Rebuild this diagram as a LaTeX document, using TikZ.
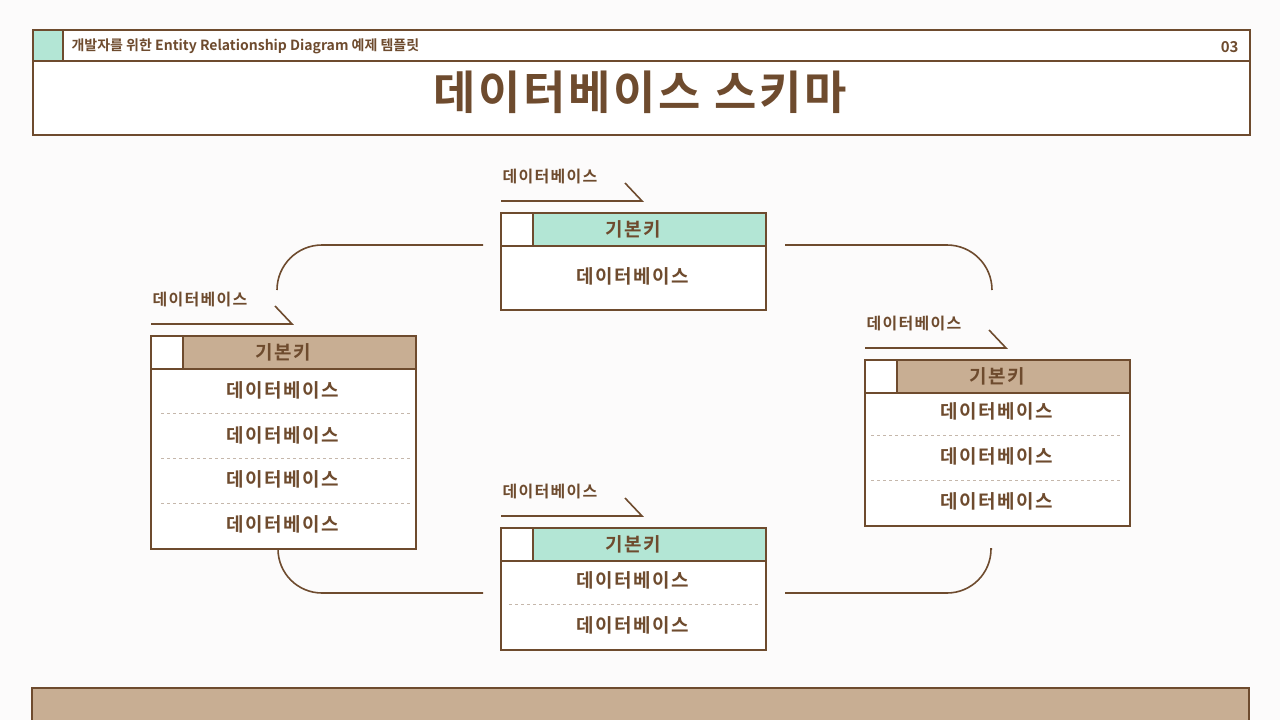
\documentclass[tikz,border=0pt]{standalone}
\usepackage{fontspec}
\setmainfont{Noto Sans CJK KR}[BoldFont={* Bold}]
\definecolor{br}{HTML}{6E4B2E}
\definecolor{mint}{HTML}{B3E6D5}
\definecolor{tan}{HTML}{C8AE93}
\begin{document}
\begin{tikzpicture}[x=1pt,y=-1pt,
  ln/.style={draw=br,line width=1.6pt},
  rowtxt/.style={text=br,font=\bfseries\fontsize{19}{19}\selectfont\addfontfeature{LetterSpace=8}},
  dsh/.style={draw=br!40,dashed,line width=0.8pt},
  conn/.style={draw=br,line width=1.6pt}]
\fill[white!98!br] (0,0) rectangle (1280,720);
\useasboundingbox (0,0) rectangle (1280,720);
% header
\draw[ln,fill=white] (33,30) rectangle (1250,135);
\draw[ln] (33,61) -- (1250,61);
\draw[ln,fill=mint] (33,30) rectangle (63,61);
\node[anchor=west,text=br,font=\bfseries\fontsize{14}{14}\selectfont] (sub) at (68,46) {개발자를 위한 Entity Relationship Diagram 예제 템플릿};
\node[anchor=east,text=br,font=\bfseries\fontsize{15}{15}\selectfont] (num) at (1242,47) {03};
\node[text=br,font=\bfseries\fontsize{46}{46}\selectfont\addfontfeature{LetterSpace=6}] (title) at (640,92) {데이터베이스 스키마};
% bottom bar
\draw[ln,fill=tan] (32,688) rectangle (1249,730);
\newcommand{\enttable}[4]{%
  \draw[ln,fill=white] (#2,#3) rectangle ++(265,33);
  \draw[ln,fill=#4] (#2+32,#3) rectangle ++(233,33);
  \node[rowtxt] (#1h) at (#2+132,#3+16) {기본키};
  \node[anchor=west,rowtxt,font=\bfseries\fontsize{16}{16}\selectfont\addfontfeature{LetterSpace=8}] (#1l) at (#2-2,#3-36) {데이터베이스};
  \draw[ln] (#2,#3-12) -- ++(141,0) -- ++(-17,-18);
}
\newcommand{\rowbox}[3]{\draw[ln,fill=white] (#1,#2) rectangle (#1+265,#3);}
% top table
\rowbox{501}{246}{310}
\enttable{t}{501}{213}{mint}
\node[rowtxt] (t1) at (633,276) {데이터베이스};
% left table
\rowbox{151}{369}{549}
\enttable{l}{151}{336}{tan}
\foreach \y/\n in {390/1,435/2,479/3,524/4}{\node[rowtxt] (l\n) at (283,\y) {데이터베이스};}
\foreach \y in {413,458,503}{\draw[dsh] (161,\y) -- (411,\y);}
% right table
\rowbox{865}{393}{526}
\enttable{r}{865}{360}{tan}
\foreach \y/\n in {411/1,456/2,501/3}{\node[rowtxt] (r\n) at (997,\y) {데이터베이스};}
\foreach \y in {435,480}{\draw[dsh] (871,\y) -- (1121,\y);}
% bottom table
\rowbox{501}{561}{650}
\enttable{b}{501}{528}{mint}
\foreach \y/\n in {580/1,625/2}{\node[rowtxt] (b\n) at (633,\y) {데이터베이스};}
\draw[dsh] (509,604) -- (759,604);
% connectors
\coordinate (c1) at (483,245); \coordinate (c1e) at (277,290);
\coordinate (c2) at (785,245); \coordinate (c2e) at (992,290);
\coordinate (c3) at (483,593); \coordinate (c3e) at (277,549);
\coordinate (c4) at (785,593); \coordinate (c4e) at (992,549);
\draw[conn] (c1) -- (322,245) arc[start angle=270,end angle=180,radius=45] -- (c1e);
\draw[conn] (c2) -- (947,245) arc[start angle=270,end angle=360,radius=45] -- (c2e);
\draw[conn] (c3) -- (322,593) arc[start angle=90,end angle=180,radius=44] -- (c3e);
\draw[conn] (c4) -- (947,593) arc[start angle=90,end angle=0,radius=44] -- (c4e);
\end{tikzpicture}
\end{document}
